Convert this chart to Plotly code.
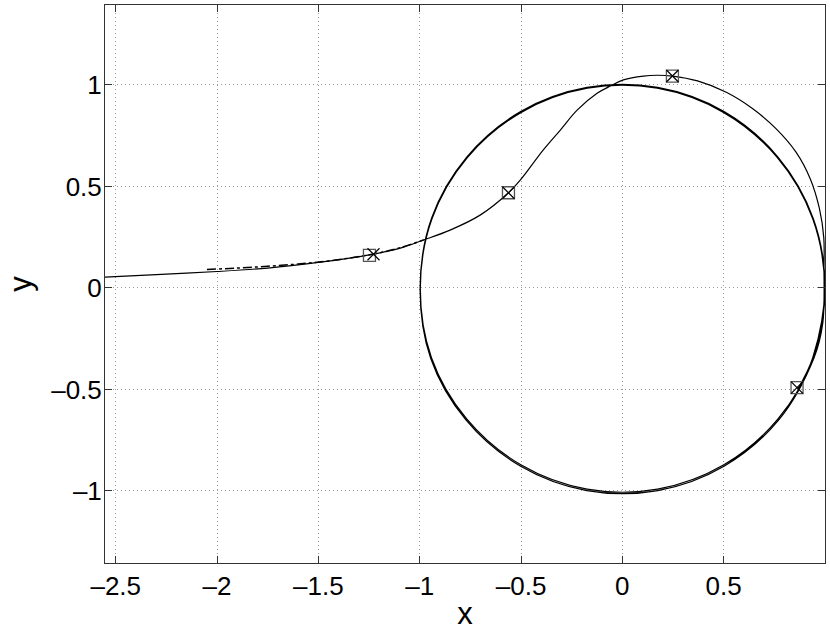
import plotly.graph_objects as go

# solid trajectory: approach from the left, overshoot, then laps on the cycle
traj_x = [-2.553, -2.30, -2.00, -1.75, -1.50, -1.248, -1.10, -0.982, -0.85, -0.70, -0.562,
          -0.503, -0.39, -0.306, -0.222, -0.123, -0.059, 0.005, 0.104, 0.173, 0.247,
          0.371, 0.513, 0.642, 0.758, 0.857, 0.928, 0.972, 0.994, 0.995, 0.989, 0.946,
          0.772, 0.504, 0.175, -0.175, -0.504, -0.772, -0.946, -0.998,
          -0.942, -0.768, -0.502, -0.174, 0.174, 0.502, 0.768, 0.942, 1.0,
          0.942, 0.768, 0.501, 0.174, -0.174, -0.501, -0.768, -0.942, -0.997,
          -0.939, -0.765, -0.499, -0.173, 0.173, 0.499, 0.765, 0.939, 0.998, 0.940, 0.866]
traj_y = [0.053, 0.066, 0.081, 0.098, 0.126, 0.163, 0.195, 0.236, 0.285, 0.36, 0.469,
          0.532, 0.68, 0.778, 0.877, 0.96, 0.995, 1.025, 1.044, 1.048, 1.044,
          1.020, 0.964, 0.884, 0.785, 0.669, 0.536, 0.393, 0.248, 0.105, -0.174, -0.344,
          -0.650, -0.877, -0.998, -0.998, -0.877, -0.650, -0.346, 0.0,
          0.343, 0.645, 0.869, 0.988, 0.988, 0.869, 0.645, 0.343, 0.0,
          -0.343, -0.645, -0.871, -0.991, -0.991, -0.871, -0.645, -0.343, 0.0,
          0.342, 0.642, 0.865, 0.984, 0.984, 0.865, 0.642, 0.342, 0.0, -0.342, -0.497]

# dash-dot estimate, only visible where it departs from the solid curve
est_x = [-2.05, -1.90, -1.75, -1.60, -1.45, -1.228, -1.10, -0.98]
est_y = [0.091, 0.098, 0.107, 0.118, 0.133, 0.167, 0.197, 0.237]

sq_x = [-1.248, -0.562, 0.247, 0.862]
sq_y = [0.161, 0.469, 1.044, -0.491]
cross_x = [-1.228, -0.562, 0.247, 0.862]
cross_y = [0.166, 0.469, 1.044, -0.491]

x_ticks = [-2.5, -2, -1.5, -1, -0.5, 0, 0.5]
y_ticks = [-1, -0.5, 0, 0.5, 1]

fig = go.Figure()
fig.add_trace(go.Scatter(x=traj_x, y=traj_y, mode='lines', line_shape='spline',
                         line=dict(color='black', width=1.2), showlegend=False))
fig.add_trace(go.Scatter(x=est_x, y=est_y, mode='lines', line_shape='spline',
                         line=dict(color='black', width=1.5, dash='dashdot'), showlegend=False))
fig.add_trace(go.Scatter(x=sq_x, y=sq_y, mode='markers',
                         marker=dict(symbol='square-open', size=12, color='#555',
                                     line=dict(width=1.3, color='#555')), showlegend=False))
fig.add_trace(go.Scatter(x=cross_x, y=cross_y, mode='markers',
                         marker=dict(symbol='x-thin-open', size=12, color='black',
                                     line=dict(width=1.2, color='black')), showlegend=False))

ax = dict(showline=True, linecolor='#333', linewidth=1, mirror='allticks',
          ticks='inside', ticklen=7, tickcolor='#333', zeroline=False, automargin=False,
          showgrid=True, gridcolor='#999', gridwidth=1, griddash='1px,3px',
          tickfont=dict(family='Liberation Sans', size=26, color='black'),
          title_font=dict(family='Liberation Sans', size=31, color='black'))

fig.update_xaxes(ax, range=[-2.553, 1.0], tickvals=x_ticks,
                 ticktext=[str(v).replace('-', '\u2013') for v in x_ticks],
                 title_text='x', title_standoff=2)
fig.update_yaxes(ax, range=[-1.355, 1.394], tickvals=y_ticks,
                 ticktext=[str(v).replace('-', '\u2013') for v in y_ticks],
                 title_text='y', title_standoff=10, ticklabelstandoff=-3)

fig.update_layout(width=830, height=634, margin=dict(l=105, r=5, t=5, b=71),
                  plot_bgcolor='white', paper_bgcolor='white')

fig.write_html("out.html", config={'displayModeBar': False},
               post_script="document.body.style.margin='0';")
